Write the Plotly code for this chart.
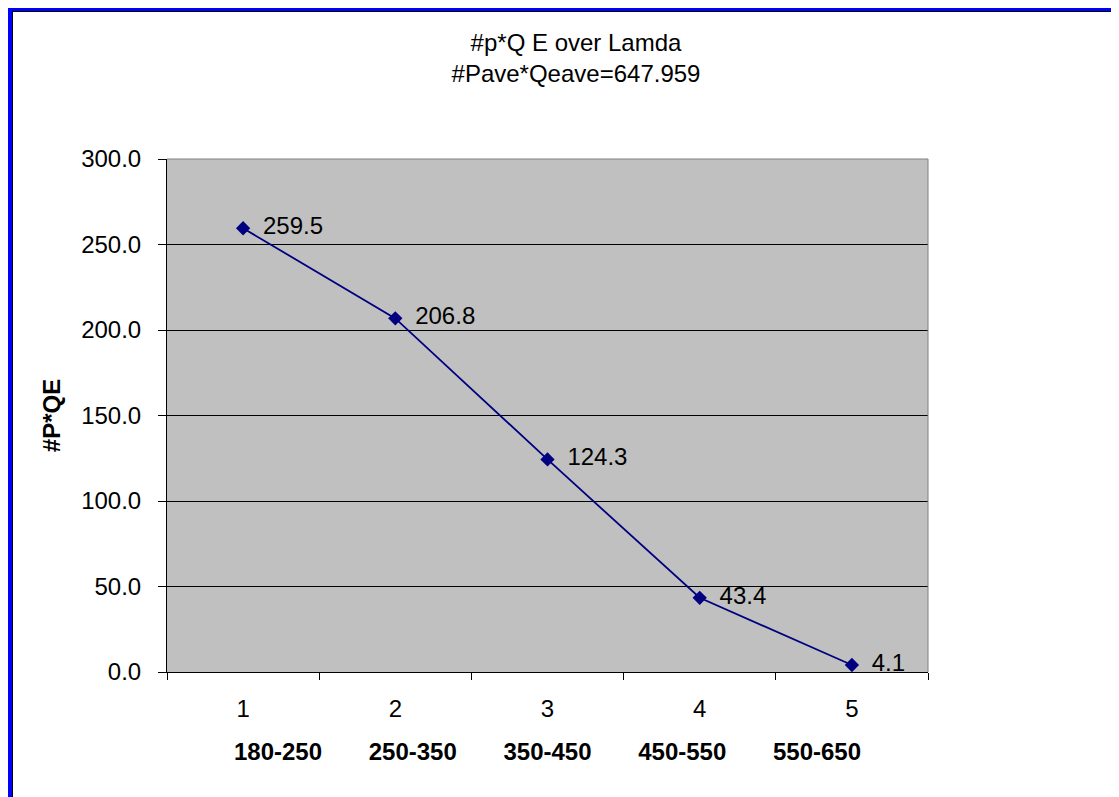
import plotly.graph_objects as go

categories = ["1", "2", "3", "4", "5"]
values = [259.5, 206.8, 124.3, 43.4, 4.1]
ranges = ["180-250", "250-350", "350-450", "450-550", "550-650"]
title_lines = ["#p*Q E over Lamda", "#Pave*Qeave=647.959"]
y_title = "#P*QE"

# page has an 8px body margin, so the figure is drawn 8px smaller
W, H = 1111, 789
ML, MR, MT, MB = 159, 191, 151, 125
PW, PH = W - ML - MR, H - MT - MB
FONT = "Arial, Liberation Sans, sans-serif"

def px_x(px):
    return (px - ML) / PW

def px_y(py):
    return (H - MB - py) / PH

fig = go.Figure()
fig.add_trace(go.Scatter(
    x=categories, y=values,
    mode="lines+markers+text",
    line=dict(color="#000080", width=1.8),
    marker=dict(symbol="diamond", size=11, color="#000080"),
    texttemplate="\u2002%{y:.1f}",
    textposition="middle right",
    textfont=dict(family=FONT, size=24, color="black"),
    cliponaxis=False,
    showlegend=False,
))

sep = "\u00a0" * 7
fig.update_layout(
    width=W, height=H,
    margin=dict(l=ML, r=MR, t=MT, b=MB),
    paper_bgcolor="white",
    plot_bgcolor="#C0C0C0",
    font=dict(family=FONT, size=24, color="black"),
    title=dict(text="<br>".join(title_lines), x=568 / W, xanchor="center",
               y=1 - 42.5 / H, yanchor="middle",
               font=dict(family=FONT, size=24, color="black")),
    xaxis=dict(type="category", range=[-0.5, 4.5], tickson="boundaries",
               ticks="outside", ticklen=7, tickcolor="black",
               ticklabelstandoff=15,
               showline=True, linecolor="black", linewidth=1,
               showgrid=False, tickfont=dict(size=24),
               title=dict(text="<b>" + sep.join(ranges) + "</b>", standoff=22,
                          font=dict(size=24))),
    yaxis=dict(range=[0, 300], dtick=50, tickformat=".1f",
               ticks="outside", ticklen=8, tickcolor="black",
               ticklabelstandoff=12,
               showline=True, linecolor="black", linewidth=1,
               showgrid=True, gridcolor="black", gridwidth=1,
               zeroline=False, tickfont=dict(size=24),
               title=dict(text="<b>" + y_title + "</b>", standoff=13,
                          font=dict(size=24))),
    shapes=[
        dict(type="line", xref="paper", yref="paper", x0=0, x1=1, y0=1, y1=1,
             line=dict(color="#808080", width=1)),
        dict(type="line", xref="paper", yref="paper", x0=1, x1=1, y0=0, y1=1,
             line=dict(color="#808080", width=1)),
        dict(type="rect", xref="paper", yref="paper",
             x0=px_x(0), x1=px_x(4), y0=px_y(H), y1=px_y(0),
             fillcolor="#0000FF", line=dict(width=0)),
        dict(type="rect", xref="paper", yref="paper",
             x0=px_x(0), x1=px_x(W), y0=px_y(3), y1=px_y(0),
             fillcolor="#0000FF", line=dict(width=0)),
        dict(type="line", xref="paper", yref="paper",
             x0=px_x(4.5), x1=px_x(4.5), y0=px_y(H), y1=px_y(3),
             line=dict(color="black", width=1)),
        dict(type="line", xref="paper", yref="paper",
             x0=px_x(4), x1=px_x(W), y0=px_y(3.5), y1=px_y(3.5),
             line=dict(color="black", width=1)),
    ],
)

fig.write_html("out.html")
